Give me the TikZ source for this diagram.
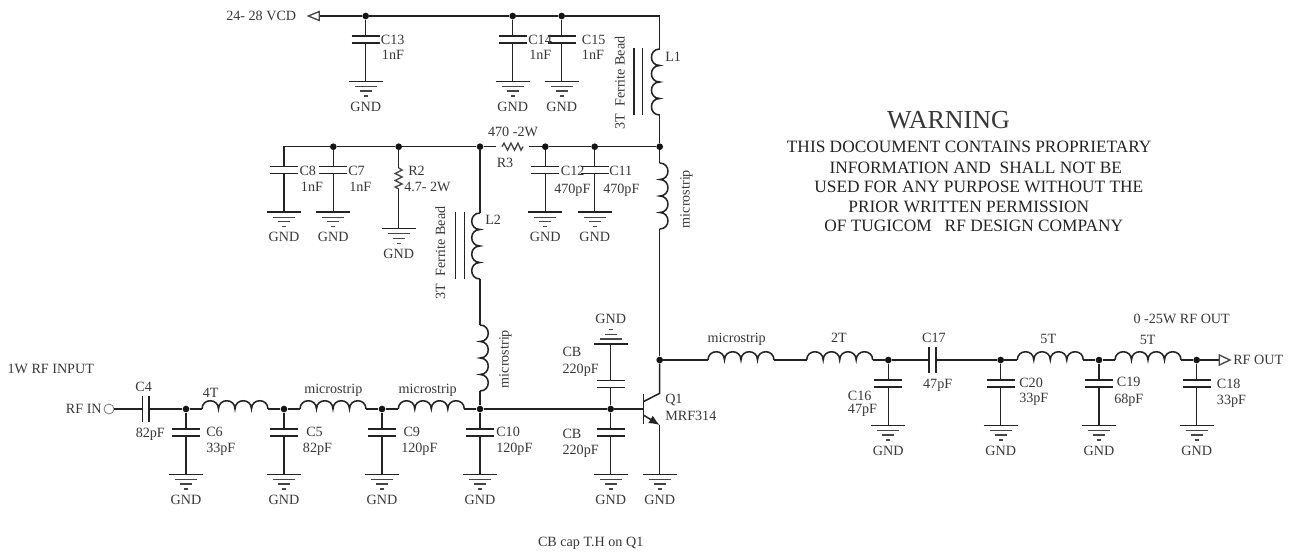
\documentclass[tikz,border=0pt]{standalone}
\usepackage{xcolor}
\usepackage{fontspec}
\setmainfont{Liberation Serif}
\usetikzlibrary{arrows.meta}

\tikzset{
  every pic/.style={yscale=-1},
  wire/.style={color={rgb, 255:red, 35; green, 35; blue, 35 },line width=1.15pt},
  thinwire/.style={color={rgb, 255:red, 70; green, 70; blue, 70 },line width=0.85pt},
  junction/.style={circle,fill={rgb, 255:red, 20; green, 20; blue, 20 },inner sep=0pt,minimum size=5pt},
  lbl/.style={anchor=west,inner sep=0pt,text height=7.1pt,text depth=0pt,font=\fontsize{10.6}{12}\selectfont,text={rgb, 255:red, 55; green, 55; blue, 55 }},
  lblc/.style={lbl,anchor=center},
  lblv/.style={lblc,rotate=90},
  warn/.style={lblc,text height=8.6pt,font=\fontsize{13}{15}\selectfont,text={rgb, 255:red, 35; green, 35; blue, 35 }},
  gndsym/.pic={
    \coordinate (-top) at (0,0);
    \draw [wire] (-17,0) -- (17,0);
    \draw [thinwire] (-11,5) -- (11,5);
    \draw [thinwire] (-6,9.5) -- (6,9.5);
    \draw [thinwire] (-2,14.5) -- (2,14.5);
    \node (-lbl) [lblc] at (0,25) {GND};
  },
  capgnd/.pic={
    \coordinate (-top) at (0,20);
    \draw [wire] (-14,20) -- (14,20);
    \draw [wire] (-14,27) -- (14,27);
    \draw [wire] (0,27) -- (0,65.5);
    \pic (-g) at (0,65.5) {gndsym};
  },
  capv/.pic={
    \coordinate (-top) at (0,0);
    \coordinate (-bot) at (0,6.7);
    \draw [wire] (-14,0) -- (14,0);
    \draw [wire] (-14,6.7) -- (14,6.7);
  },
  caph/.pic={
    \coordinate (-in) at (-3.3,0);
    \coordinate (-out) at (3.3,0);
    \draw [wire] (-3.3,-13) -- (-3.3,13);
    \draw [wire] (3.3,-13) -- (3.3,13);
  },
  coil/.pic={
    \coordinate (-in) at (0,0);
    \coordinate (-out) at (66,0);
    \draw [wire] (0,0) .. controls (0,-11) and (16.5,-11) .. (16.5,0) .. controls (16.5,-11) and (33,-11) .. (33,0) .. controls (33,-11) and (49.5,-11) .. (49.5,0) .. controls (49.5,-11) and (66,-11) .. (66,0);
  },
  zigzag/.pic={
    \coordinate (-in) at (0,0);
    \coordinate (-out) at (21,0);
    \draw [thinwire,line width=1pt] (0,0) -- (2,-3.5) -- (5.5,3.5) -- (9,-3.5) -- (12.5,3.5) -- (16,-3.5) -- (19,3.5) -- (21,0);
  }
}

\begin{document}
\begin{tikzpicture}[x=0.75pt,y=0.75pt,yscale=-1,xscale=1]
\useasboundingbox (0,0) rectangle (1293,551);

%Junctions, supply rail
\node (jCt) [junction] at (365.7,16) {};
\node (jCu) [junction] at (512.7,16) {};
\node (jCv) [junction] at (561.7,16) {};
\coordinate (vcd) at (319.3,16);
\coordinate (cnrTop) at (659.7,16);
%Junctions, R3 rail
\coordinate (cnrLeft) at (284,146.7);
\node (jCseven) [junction] at (333.3,146.7) {};
\node (jRtwo) [junction] at (398.7,146.7) {};
\node (jLtwo) [junction] at (480,146.7) {};
\node (jCtw) [junction] at (545.3,146.7) {};
\node (jCel) [junction] at (594.7,146.7) {};
\node (jLone) [junction] at (659.7,146.7) {};
%Junctions, input line
\node (rfin) [circle,draw={rgb, 255:red, 120; green, 120; blue, 120 },line width=0.6pt,inner sep=0pt,minimum size=7.5pt] at (109,409) {};
\node (jCsix) [junction] at (186,409) {};
\node (jCfive) [junction] at (284,409) {};
\node (jCnine) [junction] at (382,409) {};
\node (jCten) [junction] at (480,409) {};
\node (jCb) [junction] at (610.7,409) {};
%Junctions, output line
\node (jColl) [junction] at (659.7,360) {};
\node (jCsixt) [junction] at (888.3,360) {};
\node (jCtwenty) [junction] at (1000.7,360) {};
\node (jCnint) [junction] at (1099,360) {};
\node (jCeight) [junction] at (1196.7,360) {};
\coordinate (rfout) at (1219.3,360);

%Capacitors to ground
\pic (Cthirteen) at (365.7,16) {capgnd};
\pic (Cfourteen) at (512.7,16) {capgnd};
\pic (Cfifteen) at (561.7,16) {capgnd};
\pic (Ceight) at (284,146.7) {capgnd};
\pic (Cseven) at (333.3,146.7) {capgnd};
\pic (Ctwelve) at (545.3,146.7) {capgnd};
\pic (Celeven) at (594.7,146.7) {capgnd};
\pic (Csix) at (186,409) {capgnd};
\pic (Cfive) at (284,409) {capgnd};
\pic (Cnine) at (382,409) {capgnd};
\pic (Cten) at (480,409) {capgnd};
\pic (CbLow) at (610.7,409) {capgnd};
\pic (Csixteen) at (888.3,360) {capgnd};
\pic (Ctwenty) at (1000.7,360) {capgnd};
\pic (Cnineteen) at (1099,360) {capgnd};
\pic (Ceighteen) at (1196.7,360) {capgnd};
%Capacitors in line
\pic (Cfour) at (145.7,409) {caph};
\pic (Cseventeen) at (932.5,360) {caph};
\pic (CbHigh) at (610.7,380.7) {capv};
%Inductors
\pic (Lone) [rotate=90] at (659.7,115) {coil};
\pic (Ltwo) [rotate=90] at (480,279) {coil};
\pic (Lmsa) [rotate=-90] at (659.7,163) {coil};
\pic (Lmsb) [rotate=-90] at (480,325) {coil};
\pic (Lfourt) at (202,409) {coil};
\pic (Lmsc) at (300,409) {coil};
\pic (Lmsd) at (398.3,409) {coil};
\pic (Lmse) at (708,360) {coil};
\pic (Ltwot) at (806.7,360) {coil};
\pic (Lfivet) at (1017.3,360) {coil};
\pic (Lfivetb) at (1115,360) {coil};
%Resistors
\pic (Rthree) at (502,146.7) {zigzag};
\coordinate (Rthreea) at (496,146.7);
\coordinate (Rthreeb) at (529.3,146.7);
\pic (Rtwo) [rotate=-90] at (398.7,168) {zigzag};
%Grounds on their own
\pic (GRtwo) at (398.7,228.7) {gndsym};
\pic (GQone) at (659.7,474.5) {gndsym};
\pic (GCb) [yscale=-1] at (610.7,344) {gndsym};

%Straight Lines
\draw [wire] (vcd) -- (jCt) -- (jCu) -- (jCv) -- (cnrTop) -- (Lone-out);
\draw [wire] (jCt) -- (Cthirteen-top);
\draw [wire] (jCu) -- (Cfourteen-top);
\draw [wire] (jCv) -- (Cfifteen-top);
\draw [wire] (Lone-in) -- (jLone) -- (Lmsa-in);
\draw [wire] (Ceight-top) -- (cnrLeft) -- (jCseven) -- (jRtwo) -- (jLtwo) -- (Rthreea);
\draw [wire] (Rthreeb) -- (jCtw) -- (jCel) -- (jLone);
\draw [wire] (jCseven) -- (Cseven-top);
\draw [wire] (jCtw) -- (Ctwelve-top);
\draw [wire] (jCel) -- (Celeven-top);
\draw [wire] (jRtwo) -- (Rtwo-in);
\draw [wire] (Rtwo-out) -- (GRtwo-top);
\draw [wire] (jLtwo) -- (Ltwo-out);
\draw [wire] (Ltwo-in) -- (Lmsb-in);
\draw [wire] (Lmsb-out) -- (jCten);
\draw [wire] (rfin) -- (Cfour-in);
\draw [wire] (Cfour-out) -- (jCsix) -- (Lfourt-in);
\draw [wire] (Lfourt-out) -- (jCfive) -- (Lmsc-in);
\draw [wire] (Lmsc-out) -- (jCnine) -- (Lmsd-in);
\draw [wire] (Lmsd-out) -- (jCten) -- (jCb);
\draw [wire] (jCsix) -- (Csix-top);
\draw [wire] (jCfive) -- (Cfive-top);
\draw [wire] (jCnine) -- (Cnine-top);
\draw [wire] (jCten) -- (Cten-top);
\draw [wire] (jCb) -- (CbLow-top);
\draw [wire] (jCb) -- (CbHigh-bot);
\draw [wire] (CbHigh-top) -- (GCb-top);
\draw [wire] (Lmsa-out) -- (jColl) -- (Lmse-in);
\draw [wire] (Lmse-out) -- (Ltwot-in);
\draw [wire] (Ltwot-out) -- (jCsixt) -- (Cseventeen-in);
\draw [wire] (Cseventeen-out) -- (jCtwenty) -- (Lfivet-in);
\draw [wire] (Lfivet-out) -- (jCnint) -- (Lfivetb-in);
\draw [wire] (Lfivetb-out) -- (jCeight) -- (rfout);
\draw [wire] (jCsixt) -- (Csixteen-top);
\draw [wire] (jCtwenty) -- (Ctwenty-top);
\draw [wire] (jCnint) -- (Cnineteen-top);
\draw [wire] (jCeight) -- (Ceighteen-top);

%Ferrite bars
\draw [wire] (634,48) -- (634,115);
\draw [wire] (642.7,48) -- (642.7,115);
\draw [wire] (455.7,212) -- (455.7,279);
\draw [wire] (464.3,212) -- (464.3,279);

%Transistor
\coordinate (qb) at (643.3,409);
\coordinate (qc) at (659.7,393.3);
\coordinate (qe) at (659.7,425);
\draw [wire] (jCb) -- (qb);
\draw [wire] (643.3,394) -- (643.3,424);
\draw [wire] (643.3,401.7) -- (qc) -- (jColl);
\draw [wire,-{Latex[length=8pt,width=6.5pt]}] (643.3,415) -- (qe);
\draw [wire] (qe) -- (GQone-top);

%Port triangles
\draw [thinwire,line width=1pt] (319.3,11.5) -- (308.3,16) -- (319.3,20.5) -- cycle;
\draw [thinwire,line width=1pt] (1219.3,355) -- (1230,360) -- (1219.3,365) -- cycle;

% Text Node
\draw (226,16) node (lblVcd) [lbl] {24- 28 VCD};
\draw (7.3,368.3) node (lblRfInput) [lbl] {1W RF INPUT};
\draw (65.7,409) node (lblRfIn) [lbl] {RF IN};
\draw (1233,360) node (lblRfOut) [lbl] {RF OUT};
\draw (1181.7,319) node (lblPower) [lblc] {0 -25W RF OUT};
\draw (590.7,541.3) node (lblNote) [lblc] {CB cap T.H on Q1};
% Text Node
\draw (380.7,39.5) node (lblCthirteen) [lbl] {C13};
\draw (381.7,55) node (valCthirteen) [lbl] {1nF};
\draw (528,39.5) node (lblCfourteen) [lbl] {C14};
\draw (529,55) node (valCfourteen) [lbl] {1nF};
\draw (581.7,39.5) node (lblCfifteen) [lbl] {C15};
\draw (581.7,55) node (valCfifteen) [lbl] {1nF};
\draw (299.3,170.7) node (lblCeight) [lbl] {C8};
\draw (300.7,187) node (valCeight) [lbl] {1nF};
\draw (348,170.7) node (lblCseven) [lbl] {C7};
\draw (349,187) node (valCseven) [lbl] {1nF};
\draw (408,170.7) node (lblRtwo) [lbl] {R2};
\draw (404,187) node (valRtwo) [lbl] {4.7- 2W};
\draw (513,131.7) node (valRthree) [lblc] {470 -2W};
\draw (505,163) node (lblRthree) [lblc] {R3};
\draw (560.7,171) node (lblCtwelve) [lbl] {C12};
\draw (554,189) node (valCtwelve) [lbl] {470pF};
\draw (609,171) node (lblCeleven) [lbl] {C11};
\draw (603,189) node (valCeleven) [lbl] {470pF};
\draw (665,56.7) node (lblLone) [lbl] {L1};
\draw (485,220) node (lblLtwo) [lbl] {L2};
\draw (620,83) node (valLone) [lblv] {3T~ Ferrite Bead};
\draw (440.5,253) node (valLtwo) [lblv] {3T~ Ferrite Bead};
\draw (685,199) node (lblMsa) [lblv] {microstrip};
\draw (504,359) node (lblMsb) [lblv] {microstrip};
% Text Node
\draw (143.7,386.7) node (lblCfour) [lblc] {C4};
\draw (150.3,432.3) node (valCfour) [lblc] {82pF};
\draw (206,431.7) node (lblCsix) [lbl] {C6};
\draw (206,447.3) node (valCsix) [lbl] {33pF};
\draw (306,431.7) node (lblCfive) [lbl] {C5};
\draw (302.7,447.3) node (valCfive) [lbl] {82pF};
\draw (403.3,431.7) node (lblCnine) [lbl] {C9};
\draw (401,447.3) node (valCnine) [lbl] {120pF};
\draw (496,432) node (lblCten) [lbl] {C10};
\draw (496,448) node (valCten) [lbl] {120pF};
\draw (562.3,352) node (lblCbHigh) [lbl] {CB};
\draw (562.3,368.3) node (valCbHigh) [lbl] {220pF};
\draw (562.3,434) node (lblCbLow) [lbl] {CB};
\draw (562.3,450) node (valCbLow) [lbl] {220pF};
\draw (665,399) node (lblQone) [lbl] {Q1};
\draw (665,415.7) node (valQone) [lbl] {MRF314};
\draw (210.7,392.3) node (lblLfourt) [lblc] {4T};
\draw (333.3,388.3) node (lblMsc) [lblc] {microstrip};
\draw (427.7,388.3) node (lblMsd) [lblc] {microstrip};
\draw (736.7,337.7) node (lblMse) [lblc] {microstrip};
\draw (839,337.3) node (lblLtwot) [lblc] {2T};
\draw (934,338) node (lblCseventeen) [lblc] {C17};
\draw (937.7,383.3) node (valCseventeen) [lblc] {47pF};
\draw (1048.3,339) node (lblLfivet) [lblc] {5T};
\draw (1147.7,340) node (lblLfivetb) [lblc] {5T};
\draw (847.7,396) node (lblCsixteen) [lbl] {C16};
\draw (847.7,409) node (valCsixteen) [lbl] {47pF};
\draw (1019,382.3) node (lblCtwenty) [lbl] {C20};
\draw (1019,398) node (valCtwenty) [lbl] {33pF};
\draw (1116.7,382) node (lblCnineteen) [lbl] {C19};
\draw (1114,399) node (valCnineteen) [lbl] {68pF};
\draw (1216.7,384) node (lblCeighteen) [lbl] {C18};
\draw (1216.7,400) node (valCeighteen) [lbl] {33pF};
% Text Node
\draw (948.5,120) node (lblWarn) [lblc,text height=12.9pt,font=\fontsize{19.5}{22}\selectfont] {WARNING};
\draw (969.2,146.7) node (lblWarna) [warn] {THIS DOCOUMENT CONTAINS PROPRIETARY};
\draw (975.8,167.7) node (lblWarnb) [warn] {INFORMATION AND~ SHALL NOT BE};
\draw (978.8,186.7) node (lblWarnc) [warn] {USED FOR ANY PURPOSE WITHOUT THE};
\draw (968.8,206.7) node (lblWarnd) [warn] {PRIOR WRITTEN PERMISSION};
\draw (973.8,226) node (lblWarne) [warn] {OF TUGICOM ~ RF DESIGN COMPANY};

\end{tikzpicture}
\end{document}
